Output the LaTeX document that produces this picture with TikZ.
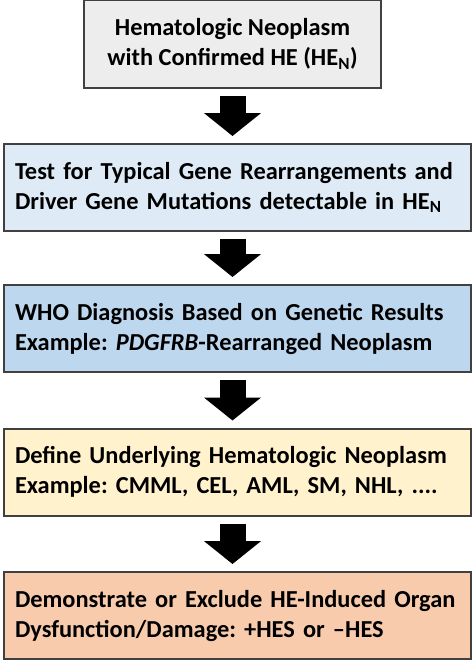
\documentclass[tikz,border=0pt]{standalone}
\usepackage{fontspec}
\setmainfont{Carlito}
\usepackage{xcolor}
\usetikzlibrary{positioning,arrows.meta}

\definecolor{boxgray}{HTML}{EDEDED}
\definecolor{boxblue}{HTML}{DEEBF7}
\definecolor{boxsteel}{HTML}{BDD7EE}
\definecolor{boxcream}{HTML}{FFF2CC}
\definecolor{boxpeach}{HTML}{F8CBAD}
\definecolor{boxline}{HTML}{404040}

\newcommand{\boxfont}{\fontsize{24.4}{30}\selectfont\bfseries\frenchspacing\hyphenpenalty=10000\relax}

\begin{document}
\begin{tikzpicture}[x=1pt, y=-1pt,
    box/.style={draw=boxline, line width=2pt, inner xsep=11pt, inner ysep=0pt,
      minimum height=87pt, font=\boxfont},
    widebox/.style={box, text width=445pt, align=left},
    bigarrow/.style={line width=26pt, shorten <=7pt, shorten >=7pt,
      -{Triangle[width=56pt, length=23pt]}}]
  \useasboundingbox (0,0) rectangle (475,661);

  % Boxes
  \node[box, fill=boxgray, minimum width=297pt, align=center] (neo) at (232.5,44) {Hematologic Neoplasm\\with Confirmed HE (HE\textsubscript{N})};
  \node[widebox, fill=boxblue] (test) at (237.5,187.5) {Test for Typical Gene Rearrangements and\\Driver Gene Mutations detectable in HE\textsubscript{N}};
  \node[widebox, fill=boxsteel] (who) at (237.5,328.5) {WHO Diagnosis Based on Genetic Results\\Example: \textit{PDGFRB}-Rearranged Neoplasm};
  \node[widebox, fill=boxcream] (define) at (237.5,472) {Define Underlying Hematologic Neoplasm\\Example: CMML, CEL, AML, SM, NHL, ....};
  \node[widebox, fill=boxpeach] (organ) at (237.5,615.5) {Demonstrate or Exclude HE-Induced Organ\\Dysfunction/Damage: +HES or \textendash HES};

  % Arrows
  \draw[bigarrow] (neo.south) -- (neo.south |- test.north);
  \draw[bigarrow] (neo.south |- test.south) -- (neo.south |- who.north);
  \draw[bigarrow] (neo.south |- who.south) -- (neo.south |- define.north);
  \draw[bigarrow] (neo.south |- define.south) -- (neo.south |- organ.north);
\end{tikzpicture}
\end{document}
